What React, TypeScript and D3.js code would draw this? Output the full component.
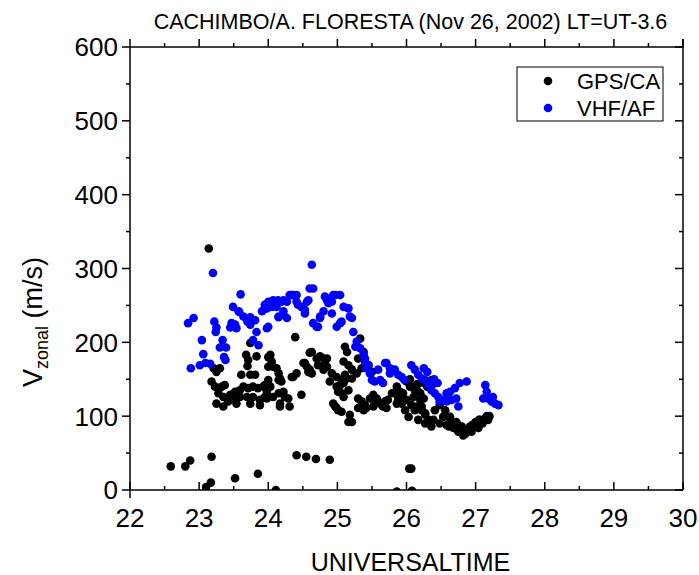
import React from 'react';
import * as d3 from 'd3';

const titleText = 'CACHIMBO/A. FLORESTA (Nov 26, 2002) LT=UT-3.6';
const xLabel = 'UNIVERSALTIME';
const yLabelMain = 'V';
const yLabelSub = 'zonal';
const yLabelUnit = ' (m/s)';
const xTicks = [22, 23, 24, 25, 26, 27, 28, 29, 30];
const yTicks = [0, 100, 200, 300, 400, 500, 600];
const seriesNames = ['GPS/CA', 'VHF/AF'];
const seriesColors = ['#000000', '#0000ff'];

const gpsPoints: [number, number][] = [
  [22.59, 32], [22.8, 32], [22.87, 40], [23.18, 45], [23.1, 4], [23.17, 10], [23.52, 16], [23.85, 22], [24.11, 0],
  [24.41, 47], [24.55, 45], [24.69, 42], [24.89, 41], [26.04, 29], [26.07, 29], [25.86, -2], [26.08, -1],
  [23.14, 327], [23.74, 199], [23.68, 183], [23.71, 176], [23.7, 168], [23.83, 181], [24.0, 180], [24.0, 167],
  [23.21, 165], [23.25, 160], [23.3, 165], [23.61, 156], [23.74, 156], [23.81, 156],
  [23.18, 147], [23.23, 140], [23.33, 140], [23.37, 142],
  [23.28, 131], [23.35, 126], [23.45, 129], [23.52, 133], [23.59, 135], [23.64, 140], [23.71, 138], [23.78, 140],
  [23.85, 138], [23.93, 140], [24.0, 140],
  [23.25, 117], [23.35, 113], [23.42, 120], [23.49, 124], [23.59, 126], [23.69, 126], [23.78, 126], [23.88, 122],
  [23.95, 126], [23.54, 117], [23.74, 117], [23.88, 115],
  [24.05, 174], [24.07, 167], [24.39, 207], [24.6, 186], [24.53, 172], [24.56, 167], [24.6, 163], [24.63, 158],
  [24.7, 178], [24.75, 181], [24.8, 178], [24.82, 172], [24.85, 167], [24.8, 163],
  [24.41, 158], [24.36, 153], [24.15, 149], [24.19, 147], [24.0, 149], [24.03, 140], [24.07, 126],
  [24.15, 131], [24.22, 133], [24.24, 126], [24.17, 117], [24.31, 113], [24.48, 129],
  [24.92, 158], [24.99, 153], [25.06, 149], [25.09, 145], [24.99, 140], [25.06, 131], [25.09, 126], [24.99, 111],
  [25.06, 106], [25.16, 92], [24.94, 117], [25.11, 194], [25.14, 187],
  [24.03, 183], [24.12, 165], [24.15, 158], [24.17, 151], [23.95, 142], [23.98, 133], [23.98, 124],
  [24.29, 124], [24.17, 113], [24.34, 153], [24.51, 172], [24.58, 160], [24.63, 187], [24.72, 169], [24.85, 178],
  [24.89, 147], [25.04, 142], [25.11, 149], [25.01, 133], [24.97, 113], [25.01, 108], [25.16, 135],
  [25.09, 174], [25.16, 169], [25.21, 163], [25.28, 158], [25.3, 178], [25.33, 205], [25.38, 187], [25.4, 174],
  [25.45, 169], [25.35, 165], [25.5, 160],
  [25.3, 124], [25.35, 120], [25.4, 115], [25.47, 124], [25.54, 120], [25.62, 117], [25.66, 113], [25.3, 111],
  [25.42, 111], [25.18, 102], [25.21, 92], [25.11, 156], [25.21, 151],
  [25.52, 129], [25.57, 124], [25.38, 108], [25.52, 113],
  [25.86, 135], [25.91, 126], [25.95, 120], [25.86, 117], [26.05, 140], [26.12, 135], [26.2, 131], [26.25, 124],
  [26.1, 126], [26.15, 113], [26.22, 108], [26.27, 102], [26.36, 149], [26.39, 144],
  [26.39, 95], [26.48, 90], [26.58, 88], [26.68, 84], [26.77, 79], [26.85, 76], [26.92, 81], [26.99, 86],
  [27.06, 92], [27.14, 97], [27.18, 95], [26.72, 92], [26.53, 99], [26.63, 99],
  [25.65, 115], [25.73, 122], [25.79, 131], [26.0, 147], [26.05, 150], [26.15, 143], [26.25, 145], [26.3, 140],
  [27.0, 92], [27.05, 95], [27.1, 90], [27.2, 100], [26.95, 88], [26.9, 84], [26.8, 86],
  [25.69, 120], [25.71, 111], [25.86, 140], [25.91, 133], [25.88, 124], [25.93, 117], [25.98, 108], [26.03, 99],
  [25.95, 131], [26.0, 122], [26.07, 115], [26.12, 108], [26.17, 133], [26.15, 142], [26.2, 122], [26.22, 113],
  [26.27, 104], [26.32, 95], [26.36, 86], [26.17, 95], [26.27, 90],
  [26.41, 108], [26.48, 115], [26.56, 108], [26.61, 99], [26.65, 90], [26.7, 84], [26.75, 79], [26.82, 74],
  [26.87, 81], [26.92, 86], [26.99, 90], [27.06, 95], [27.16, 100], [26.61, 86], [26.73, 90], [26.8, 82],
  [26.94, 79], [27.04, 84],
];

const vhfPoints: [number, number][] = [
  [23.2, 294], [23.6, 265], [23.49, 248], [23.58, 241], [23.64, 235], [23.69, 232], [23.74, 234], [23.7, 228],
  [22.84, 226], [22.92, 233], [23.22, 228], [23.25, 220], [23.24, 214], [23.04, 203], [23.06, 184], [22.88, 165],
  [23.01, 169], [23.09, 172], [23.16, 171], [23.34, 203], [23.3, 193], [23.39, 193], [23.36, 180], [23.38, 176],
  [23.45, 220], [23.47, 226], [23.52, 224], [23.54, 219], [23.74, 224], [23.81, 230], [23.83, 214], [23.78, 203],
  [23.86, 196], [23.91, 242], [23.95, 251], [24.0, 255], [23.98, 219], [23.57, 242],
  [23.95, 246], [24.05, 255], [24.12, 255], [24.19, 255], [24.27, 255], [24.31, 264], [24.36, 264], [24.41, 255],
  [24.48, 248], [24.53, 244], [24.56, 255], [24.6, 273], [24.65, 273], [24.63, 305],
  [24.05, 248], [24.15, 234], [24.22, 242], [24.27, 233],
  [24.65, 226], [24.7, 221], [24.75, 233], [24.8, 242], [24.85, 257], [24.92, 255], [24.97, 264], [25.04, 264],
  [24.99, 221], [25.06, 228], [25.09, 248], [25.16, 246],
  [24.07, 257], [24.14, 257], [24.22, 257], [24.12, 248], [23.98, 246], [24.34, 264], [24.41, 264], [24.43, 251],
  [24.53, 239], [24.15, 235], [24.22, 237], [24.0, 221],
  [24.58, 257], [24.82, 262], [24.94, 264], [24.87, 253], [24.92, 239], [24.75, 235], [24.72, 221], [25.04, 226],
  [25.18, 235], [25.21, 233],
  [25.23, 214], [25.28, 201], [25.26, 194], [25.33, 192], [25.38, 183], [25.4, 174], [25.45, 169], [25.4, 178],
  [25.42, 165], [25.47, 158], [25.5, 149], [25.54, 147], [25.62, 149], [25.66, 145], [25.59, 163], [25.69, 172],
  [25.76, 165], [25.83, 163],
  [25.71, 172], [25.76, 158], [25.88, 156], [25.93, 153], [25.97, 149], [26.07, 169], [26.12, 163], [26.17, 156],
  [26.22, 151], [26.27, 149], [26.32, 142], [26.36, 135], [26.41, 131], [26.46, 126], [26.48, 120], [26.53, 122],
  [26.58, 131], [26.63, 133], [26.7, 138], [26.77, 145], [26.87, 147], [26.65, 122], [26.72, 124], [26.75, 113],
  [26.58, 120],
  [27.14, 142], [27.16, 133], [27.11, 124], [27.18, 124], [27.23, 120], [27.28, 117], [27.33, 115], [27.25, 126],
  [26.25, 165], [26.3, 160], [26.4, 150], [26.45, 145],
];

const FONT = '"Liberation Sans", Arial, Helvetica, sans-serif';

export default function App() {
  const W = 699;
  const H = 575;
  const left = 130, right = 683, top = 47, bottom = 490;
  const x = d3.scaleLinear().domain([22, 30]).range([left, right]);
  const y = d3.scaleLinear().domain([0, 600]).range([bottom, top]);
  const xMinor = d3.range(22.5, 30, 1);
  const yMinor = d3.range(50, 600, 100);
  const major = 8;
  const minor = 4;
  const r = 4.3;
  const series = [gpsPoints, vhfPoints];

  return (
    <svg width={W} height={H} style={{ position: 'absolute', left: 0, top: 0, background: '#fff' }} fontFamily={FONT}>
      <defs>
        <clipPath id="plotClip">
          <rect x={left} y={top} width={right - left} height={bottom - top} />
        </clipPath>
      </defs>
      <rect x={0} y={0} width={W} height={H} fill="#fff" />
      <text x={(left + right) / 2 + 4} y={29} textAnchor="middle" fontSize={21.5}>{titleText}</text>

      <g clipPath="url(#plotClip)">
        {series.map((pts, si) => (
          <g key={si} fill={seriesColors[si]}>
            {pts.map((p, i) => (
              <circle key={i} cx={x(p[0])} cy={y(p[1])} r={r} />
            ))}
          </g>
        ))}
      </g>

      <g stroke="#000" strokeWidth={1.5} fill="none">
        <line x1={left} y1={top} x2={left} y2={bottom + 8} />
        <line x1={right} y1={top - 8} x2={right} y2={bottom} />
        <line x1={left} y1={top} x2={right} y2={top} />
        <line x1={left} y1={bottom} x2={right} y2={bottom} />
        {xTicks.map((t) => (
          <g key={'xt' + t}>
            <line x1={x(t)} y1={bottom} x2={x(t)} y2={bottom - major} />
            <line x1={x(t)} y1={top} x2={x(t)} y2={top - major} />
          </g>
        ))}
        {xMinor.map((t) => (
          <g key={'xm' + t}>
            <line x1={x(t)} y1={bottom} x2={x(t)} y2={bottom - minor} />
            <line x1={x(t)} y1={top} x2={x(t)} y2={top - minor} />
          </g>
        ))}
        {yTicks.map((t) => (
          <g key={'yt' + t}>
            <line x1={left} y1={y(t)} x2={left - major} y2={y(t)} />
            <line x1={right} y1={y(t)} x2={right - major} y2={y(t)} />
          </g>
        ))}
        {yMinor.map((t) => (
          <g key={'ym' + t}>
            <line x1={left} y1={y(t)} x2={left - minor} y2={y(t)} />
            <line x1={right} y1={y(t)} x2={right - minor} y2={y(t)} />
          </g>
        ))}
      </g>

      {xTicks.map((t) => (
        <text key={'xl' + t} x={x(t)} y={527} textAnchor="middle" fontSize={26}>{t}</text>
      ))}
      {yTicks.map((t) => (
        <text key={'yl' + t} x={118} y={y(t)} dy="0.36em" textAnchor="end" fontSize={26}>{t}</text>
      ))}

      <text x={(left + right) / 2 + 4} y={571} textAnchor="middle" fontSize={25}>{xLabel}</text>

      <text transform={`translate(42, 322) rotate(-90)`} textAnchor="middle" fontSize={27}>
        <tspan>{yLabelMain}</tspan>
        <tspan fontSize={18} dy={6}>{yLabelSub}</tspan>
        <tspan dy={-6}>{yLabelUnit}</tspan>
      </text>

      <g>
        <rect x={517} y={67} width={146} height={54} fill="#fff" stroke="#000" strokeWidth={1} />
        {seriesNames.map((n, i) => (
          <g key={n}>
            <circle cx={548} cy={81 + i * 27} r={r} fill={seriesColors[i]} />
            <text x={577} y={88.5 + i * 27} fontSize={22}>{n}</text>
          </g>
        ))}
      </g>
    </svg>
  );
}
